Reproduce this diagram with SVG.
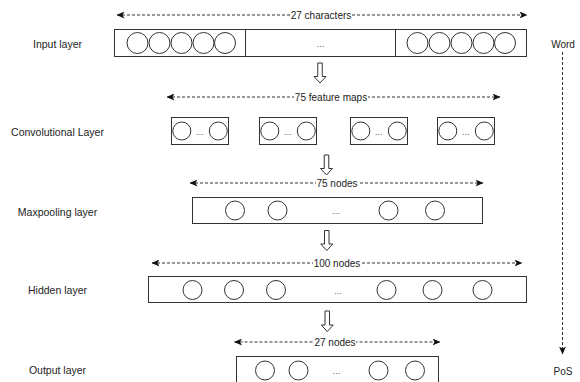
<svg xmlns="http://www.w3.org/2000/svg" width="580" height="382" viewBox="0 0 580 382">
<style>
.lbl{font-family:"Liberation Sans",Arial,sans-serif;font-size:10.5px;fill:#222;text-anchor:middle;dominant-baseline:central}
.al{font-family:"Liberation Sans",Arial,sans-serif;font-size:10px;fill:#222;text-anchor:middle;dominant-baseline:central}
.dots{font-family:"Liberation Sans",Arial,sans-serif;font-size:9px;fill:#555;text-anchor:middle}
.box{fill:#fff;stroke:#333;stroke-width:1}
.c{fill:#fff;stroke:#333;stroke-width:1}
.dash{fill:none;stroke:#333;stroke-width:1;stroke-dasharray:3 2}
.blk{fill:#fff;stroke:#333;stroke-width:1;stroke-linejoin:miter}
.bg{fill:#fff}
</style>
<defs>
<marker id="ah" viewBox="0 0 8 7" refX="7.5" refY="3.5" markerWidth="8" markerHeight="7" markerUnits="userSpaceOnUse" orient="auto-start-reverse">
<path d="M0,0 L8,3.5 L0,7 L2,3.5 z" fill="#111"/>
</marker>
</defs>
<rect width="580" height="382" fill="#fff"/>

<g id="labels">
<text class="lbl" x="57.5" y="44">Input layer</text>
<text class="lbl" x="57.5" y="131.5">Convolutional Layer</text>
<text class="lbl" x="57.5" y="211.5">Maxpooling layer</text>
<text class="lbl" x="57.5" y="290">Hidden layer</text>
<text class="lbl" x="57.5" y="370">Output layer</text>
<text class="al" x="563" y="44">Word</text>
<text class="al" x="563" y="371">PoS</text>
</g>

<g id="connectors">
<line class="dash" x1="117" y1="15" x2="527" y2="15" marker-start="url(#ah)" marker-end="url(#ah)"/>
<rect class="bg" x="290" y="8" width="62" height="14"/>
<text class="al" x="321" y="15">27 characters</text>

<line class="dash" x1="167" y1="97" x2="500" y2="97" marker-start="url(#ah)" marker-end="url(#ah)"/>
<rect class="bg" x="294" y="90" width="74" height="14"/>
<text class="al" x="331" y="97">75 feature maps</text>

<line class="dash" x1="190" y1="183" x2="483" y2="183" marker-start="url(#ah)" marker-end="url(#ah)"/>
<rect class="bg" x="316" y="176" width="42" height="14"/>
<text class="al" x="337" y="183">75 nodes</text>

<line class="dash" x1="152" y1="263" x2="522" y2="263" marker-start="url(#ah)" marker-end="url(#ah)"/>
<rect class="bg" x="313" y="256" width="48" height="14"/>
<text class="al" x="337" y="263">100 nodes</text>

<line class="dash" x1="234.5" y1="342" x2="440" y2="342" marker-start="url(#ah)" marker-end="url(#ah)"/>
<rect class="bg" x="314" y="335" width="42" height="14"/>
<text class="al" x="335" y="342">27 nodes</text>

<line class="dash" x1="562.5" y1="52" x2="562.5" y2="354" marker-end="url(#ah)"/>

<path class="blk" d="M317.75,63 h4.5 v13.5 h3.75 l-6,6.5 l-6,-6.5 h3.75 z"/>
<path class="blk" d="M324.25,155 h4.5 v13.5 h3.75 l-6,6.5 l-6,-6.5 h3.75 z"/>
<path class="blk" d="M324.5,230.5 h4.5 v13.5 h3.75 l-6,6.5 l-6,-6.5 h3.75 z"/>
<path class="blk" d="M325,311 h4.5 v14 h3.75 l-6,6.5 l-6,-6.5 h3.75 z"/>
</g>

<g id="input-layer">
<rect class="box" x="114.5" y="29.5" width="412" height="27"/>
<line stroke="#333" x1="245.5" y1="29.5" x2="245.5" y2="56.5"/>
<line stroke="#333" x1="395.5" y1="29.5" x2="395.5" y2="56.5"/>
<circle class="c" cx="137.5" cy="43" r="10.5"/>
<circle class="c" cx="159.5" cy="43" r="10.5"/>
<circle class="c" cx="181.5" cy="43" r="10.5"/>
<circle class="c" cx="203.5" cy="43" r="10.5"/>
<circle class="c" cx="225" cy="43" r="10.5"/>
<text class="dots" x="320.5" y="47">...</text>
<circle class="c" cx="417.5" cy="43" r="10.5"/>
<circle class="c" cx="439.5" cy="43" r="10.5"/>
<circle class="c" cx="461.5" cy="43" r="10.5"/>
<circle class="c" cx="483.5" cy="43" r="10.5"/>
<circle class="c" cx="505" cy="43" r="10.5"/>
</g>

<g id="conv-layer">
<g id="conv-1">
<rect class="box" x="171.5" y="117.5" width="57" height="27"/>
<circle class="c" cx="181.8" cy="131" r="9"/>
<text class="dots" x="199.8" y="134.5">...</text>
<circle class="c" cx="218.3" cy="131" r="9"/>
</g>
<g id="conv-2">
<rect class="box" x="259.5" y="117.5" width="57" height="27"/>
<circle class="c" cx="269.8" cy="131" r="9"/>
<text class="dots" x="287.8" y="134.5">...</text>
<circle class="c" cx="306.3" cy="131" r="9"/>
</g>
<g id="conv-3">
<rect class="box" x="350.5" y="117.5" width="57" height="27"/>
<circle class="c" cx="360.8" cy="131" r="9"/>
<text class="dots" x="378.8" y="134.5">...</text>
<circle class="c" cx="397.3" cy="131" r="9"/>
</g>
<g id="conv-4">
<rect class="box" x="437.5" y="117.5" width="57" height="27"/>
<circle class="c" cx="447.8" cy="131" r="9"/>
<text class="dots" x="465.8" y="134.5">...</text>
<circle class="c" cx="484.3" cy="131" r="9"/>
</g>
</g>

<g id="maxpool-layer">
<rect class="box" x="192.5" y="197.5" width="290" height="26"/>
<circle class="c" cx="235" cy="210.5" r="9.5"/>
<circle class="c" cx="277.5" cy="210.5" r="9.5"/>
<text class="dots" x="336" y="214">...</text>
<circle class="c" cx="388.5" cy="210.5" r="9.5"/>
<circle class="c" cx="435" cy="210.5" r="9.5"/>
</g>

<g id="hidden-layer">
<rect class="box" x="148.5" y="276.5" width="378" height="26"/>
<circle class="c" cx="192.5" cy="290" r="9.5"/>
<circle class="c" cx="234" cy="290" r="9.5"/>
<circle class="c" cx="276" cy="290" r="9.5"/>
<text class="dots" x="338" y="293.5">...</text>
<circle class="c" cx="386.5" cy="290" r="9.5"/>
<circle class="c" cx="432.5" cy="290" r="9.5"/>
<circle class="c" cx="482.5" cy="290" r="9.5"/>
</g>

<g id="output-layer">
<rect class="box" x="236.5" y="356.5" width="202" height="28"/>
<circle class="c" cx="265" cy="370.5" r="9.5"/>
<circle class="c" cx="298.5" cy="370.5" r="9.5"/>
<text class="dots" x="336.5" y="374">...</text>
<circle class="c" cx="378.5" cy="370.5" r="9.5"/>
<circle class="c" cx="415" cy="370.5" r="9.5"/>
</g>
</svg>
